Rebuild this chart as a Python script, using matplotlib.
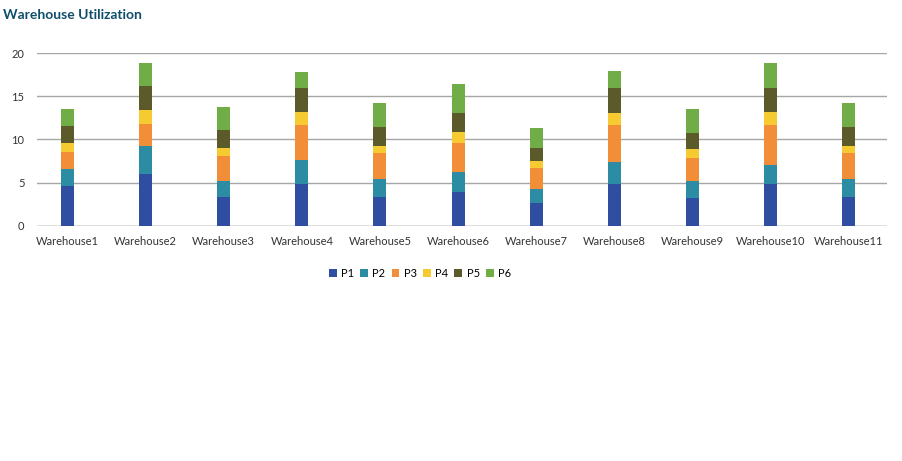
import matplotlib

matplotlib.use("Agg")
import matplotlib.pyplot as plt
import numpy as np

# Данные
warehouses = ["Warehouse1", "Warehouse2", "Warehouse3", "Warehouse4", "Warehouse5",
              "Warehouse6", "Warehouse7", "Warehouse8", "Warehouse9", "Warehouse10",
              "Warehouse11"]
p1 = [4.6, 6.0, 3.4, 4.9, 3.4, 3.9, 2.7, 4.9, 3.2, 4.9, 3.4]
p2 = [2.0, 3.2, 1.85, 2.75, 2.0, 2.3, 1.6, 2.55, 2.0, 2.2, 2.0]
p3 = [2.0, 2.6, 2.85, 4.05, 3.0, 3.35, 2.45, 4.25, 2.65, 4.6, 3.0]
p4 = [1.05, 1.6, 0.95, 1.5, 0.9, 1.3, 0.8, 1.4, 1.05, 1.5, 0.9]
p5 = [1.95, 2.8, 2.05, 2.8, 2.1, 2.2, 1.5, 2.9, 1.85, 2.8, 2.1]
p6 = [1.95, 2.7, 2.65, 1.85, 2.85, 3.35, 2.3, 1.95, 2.8, 2.9, 2.85]

series = [("P1", p1, "#2f4da1"), ("P2", p2, "#2b8ca3"), ("P3", p3, "#f28e38"),
          ("P4", p4, "#f6cb31"), ("P5", p5, "#5a5a2b"), ("P6", p6, "#70ad47")]

plt.rcParams["font.family"] = ["Lato", "DejaVu Sans"]

fig = plt.figure(figsize=(9.02, 4.61), dpi=100)
ax = fig.add_axes([37 / 902, 1 - 226 / 461, 850 / 902, 173 / 461])

x = np.arange(len(warehouses))
bottom = np.zeros(len(warehouses))
for name, vals, color in series:
    ax.bar(x, vals, bottom=bottom, width=0.167, color=color, label=name, zorder=3)
    bottom += np.array(vals)

ax.set_xlim(-0.39, 10.49)
ax.set_ylim(0, 20)
ax.set_yticks([0, 5, 10, 15, 20])
ax.set_xticks(x)
ax.set_xticklabels(warehouses)
ax.yaxis.grid(True, color="#a6a6a6", linewidth=1, zorder=0)
for s in ax.spines.values():
    s.set_visible(False)
ax.axhline(0, color="#a6a6a6", linewidth=1, zorder=2)
ax.tick_params(axis="both", length=0, labelsize=8, labelcolor="#333333")
ax.tick_params(axis="x", pad=7)
ax.tick_params(axis="y", pad=9)

fig.text(3 / 902, 1 - 15 / 461, "Warehouse Utilization", fontsize=10, fontweight="bold",
         color="#0f4e6b", va="center", ha="left")

ax.legend(loc="center", bbox_to_anchor=(420 / 902, 1 - 273 / 461),
          bbox_transform=fig.transFigure, ncol=6, frameon=False, fontsize=8,
          handlelength=0.7, handleheight=0.7, handletextpad=0.4, columnspacing=0.55)

plt.savefig("out.png", dpi=100)
plt.close()
